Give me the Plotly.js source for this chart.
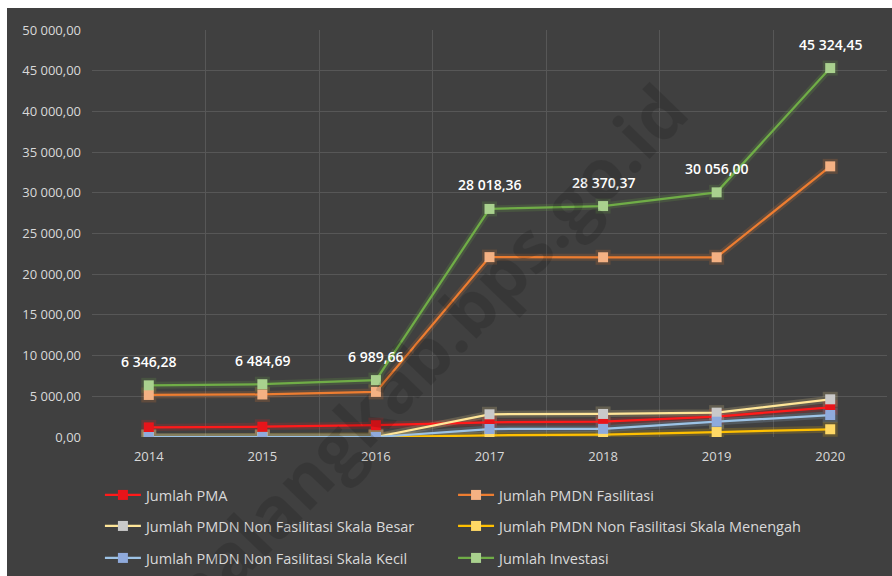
<!DOCTYPE html>
<html>
<head>
<meta charset="utf-8">
<script src="https://cdn.plot.ly/plotly-3.0.1.min.js"></script>
<style>
html,body{margin:0;padding:0;background:#ffffff;}
#wrap{position:absolute;left:0;top:0;width:892px;height:576px;background:#ffffff;}
#chart{position:absolute;left:7px;top:8px;width:885px;height:568px;}
</style>
</head>
<body>
<div id="wrap"><div id="chart"></div></div>
<script>
// ---- data ----
const years = [2014, 2015, 2016, 2017, 2018, 2019, 2020];
const jumlahPMA = [1180, 1260, 1450, 1800, 1880, 2500, 3650];
const jumlahPMDNFasilitasi = [5165, 5225, 5540, 22100, 22080, 22080, 33250];
const jumlahSkalaBesar = [0, 0, 0, 2790, 2830, 2990, 4630];
const jumlahSkalaMenengah = [0, 0, 0, 200, 300, 610, 950];
const jumlahSkalaKecil = [0, 0, 0, 980, 1000, 1880, 2700];
const jumlahInvestasi = [6346.28, 6484.69, 6989.66, 28018.36, 28370.37, 30056.00, 45324.45];
const investasiLabels = ["6 346,28", "6 484,69", "6 989,66", "28 018,36", "28 370,37", "30 056,00", "45 324,45"];
const seriesNames = [
  "Jumlah PMA",
  "Jumlah PMDN Fasilitasi",
  "Jumlah PMDN Non Fasilitasi Skala Besar",
  "Jumlah PMDN Non Fasilitasi Skala Menengah",
  "Jumlah PMDN Non Fasilitasi Skala Kecil",
  "Jumlah Investasi"
];
const yTicks = [0, 5000, 10000, 15000, 20000, 25000, 30000, 35000, 40000, 45000, 50000];

// ---- styles ----
const seriesData = [jumlahPMA, jumlahPMDNFasilitasi, jumlahSkalaBesar, jumlahSkalaMenengah, jumlahSkalaKecil, jumlahInvestasi];
const lineColors = ["#ff1a1a", "#ED7D31", "#FFE699", "#FFC000", "#9DC3E6", "#70AD47"];
const markerColors = ["#e8141a", "#F4B183", "#C9C9C9", "#FFD966", "#8FAADC", "#A9D18E"];
const legendIds = ["legend", "legend2", "legend3", "legend4", "legend5", "legend6"];
// legend slot positions (container fractions): two columns, three rows
const legendX = [0.105, 0.504, 0.105, 0.504, 0.105, 0.504];
const legendY = [0.1426, 0.1426, 0.088, 0.088, 0.0317, 0.0317];

const traces = [];
// glow layers
seriesData.forEach((d, i) => {
  traces.push({
    x: years, y: d, type: "scatter", mode: "lines+markers",
    line: {color: lineColors[i], width: 7},
    marker: {symbol: "square", size: 15, color: lineColors[i]},
    opacity: 0.18, showlegend: false, hoverinfo: "skip"
  });
});
seriesData.forEach((d, i) => {
  traces.push({
    x: years, y: d, type: "scatter", mode: "lines+markers",
    name: seriesNames[i],
    legend: legendIds[i],
    line: {color: lineColors[i], width: 2.25},
    marker: {symbol: "square", size: 10, color: markerColors[i], line: {width: 0}}
  });
});

const annotations = years.map((yr, i) => ({
  x: yr, y: jumlahInvestasi[i], xref: "x", yref: "y",
  text: investasiLabels[i], showarrow: false, yshift: 24,
  font: {family: "Open Sans", size: 14, color: "#ffffff", weight: 600}
}));
annotations.push({
  xref: "paper", yref: "paper", x: 0.41, y: 0.19, xanchor: "center", yanchor: "middle",
  text: "malangkab.bps.go.id", showarrow: false, textangle: -46,
  font: {family: "Open Sans", size: 71, color: "rgba(0,0,0,0.13)", weight: 700}
});

const layout = {
  width: 885, height: 568,
  paper_bgcolor: "#404040", plot_bgcolor: "#404040",
  margin: {l: 85, r: 5, t: 22, b: 139},
  separators: ", ",
  showlegend: true,
  xaxis: {
    range: [2013.5, 2020.5], tickmode: "array", tickvals: years,
    ticktext: years.map(String),
    showgrid: false, zeroline: false, showline: false, ticks: "",
    ticklabelstandoff: 10,
    tickfont: {family: "Open Sans", size: 13, color: "#d9d9d9"},
    minor: {tickmode: "linear", tick0: 2013.5, dtick: 1, showgrid: true, gridcolor: "#575757", gridwidth: 1, ticks: ""}
  },
  yaxis: {
    range: [0, 50000], tickmode: "array", tickvals: yTicks,
    tickformat: ",.2f", showgrid: true, gridcolor: "#575757", gridwidth: 1,
    zeroline: false, showline: false, ticks: "", ticklabelstandoff: 10,
    tickfont: {family: "Open Sans", size: 13, color: "#d9d9d9"}
  },
  annotations: annotations
};
legendIds.forEach((id, i) => {
  layout[id] = {
    orientation: "h", xref: "container", yref: "container",
    xanchor: "left", yanchor: "middle", x: legendX[i], y: legendY[i],
    bgcolor: "rgba(0,0,0,0)", itemwidth: 36,
    font: {family: "Open Sans", size: 14.5, color: "#d9d9d9"},
    itemclick: false, itemdoubleclick: false
  };
});

Plotly.newPlot("chart", traces, layout, {displayModeBar: false, staticPlot: true});
</script>
</body>
</html>
